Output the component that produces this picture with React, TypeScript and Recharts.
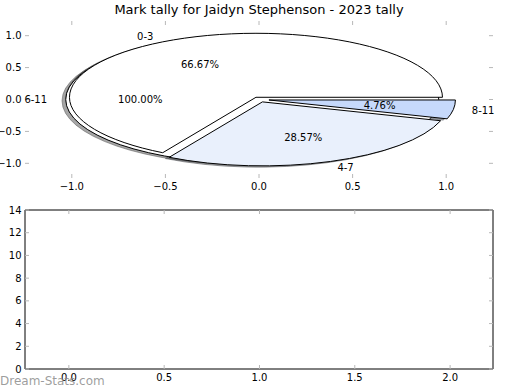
import { Pie, PieChart, Scatter, ScatterChart, XAxis, YAxis } from "recharts";

const title = "Mark tally for Jaidyn Stephenson - 2023 tally";
const watermark = "Dream-Stats.com";

// main pie
const bands = ["0-3", "4-7", "8-11"];
const tallies = [14, 6, 1];
const bandColors = ["#ffffff", "#e9f0fc", "#c6d9fb"];
const bandExplode = [0.04, 0.04, 0.05];

// the full pie drawn underneath
const backBands = ["6-11"];
const backTallies = [1];
const backColors = ["#ffffff"];
const backExplode = [0.04];

const pieTicks = [-1, -0.5, 0, 0.5, 1];
const barXTicks = [0, 0.5, 1, 1.5, 2];
const barYTicks = [0, 2, 4, 6, 8, 10, 12, 14];

const FONT = "DejaVu Sans, Verdana, sans-serif";
const TICK = "#b8b8b8";
const SQUASH = 64 / 186.5;
const RAD = Math.PI / 180;

const mainData = bands.map((name, i) => ({
  name,
  value: tallies[i],
  fill: bandColors[i],
  explode: bandExplode[i],
}));
const backData = backBands.map((name, i) => ({
  name,
  value: backTallies[i],
  fill: backColors[i],
  explode: backExplode[i],
}));

const fmtPie = (v: number) => v.toFixed(1).replace("-", "\u2212");

function wedgePath(cx: number, cy: number, rx: number, ry: number, a0: number, a1: number) {
  if (Math.abs(a1 - a0) >= 359.99) {
    return `M ${cx + rx} ${cy} A ${rx} ${ry} 0 1 0 ${cx - rx} ${cy} A ${rx} ${ry} 0 1 0 ${cx + rx} ${cy} Z`;
  }
  const x0 = cx + rx * Math.cos(a0 * RAD);
  const y0 = cy - ry * Math.sin(a0 * RAD);
  const x1 = cx + rx * Math.cos(a1 * RAD);
  const y1 = cy - ry * Math.sin(a1 * RAD);
  const large = Math.abs(a1 - a0) > 180 ? 1 : 0;
  return `M ${cx} ${cy} L ${x0} ${y0} A ${rx} ${ry} 0 ${large} 0 ${x1} ${y1} Z`;
}

function shade(hex: string) {
  const n = parseInt(hex.slice(1), 16);
  const r = Math.round(((n >> 16) & 255) * 0.3);
  const g = Math.round(((n >> 8) & 255) * 0.3);
  const b = Math.round((n & 255) * 0.3);
  return `rgb(${r},${g},${b})`;
}

function EllipseWedge(props: any, shadow: boolean) {
  const { cx, cy, outerRadius, startAngle, endAngle, payload } = props;
  const e = payload?.explode ?? props.explode ?? 0;
  const fill = payload?.fill ?? props.fill;
  const rx = outerRadius;
  const ry = outerRadius * SQUASH;
  const mid = ((startAngle + endAngle) / 2) * RAD;
  let ox = cx + e * rx * Math.cos(mid);
  let oy = cy - e * ry * Math.sin(mid);
  if (shadow) {
    ox -= 0.02 * rx;
    oy += 0.02 * ry;
    const c = shade(fill);
    return <path d={wedgePath(ox, oy, rx, ry, startAngle, endAngle)} fill={c} stroke={c} fillOpacity={0.5} strokeOpacity={0.5} />;
  }
  return <path d={wedgePath(ox, oy, rx, ry, startAngle, endAngle)} fill={fill} stroke="#000" strokeWidth={1} />;
}

function WedgeLabel(props: any) {
  const { cx, cy, midAngle, outerRadius, percent, payload, name } = props;
  const e = payload?.explode ?? 0;
  const rx = outerRadius;
  const ry = outerRadius * SQUASH;
  const c = Math.cos(midAngle * RAD);
  const s = Math.sin(midAngle * RAD);
  const d1 = 1.1 + e;
  const d2 = 0.6 + e;
  return (
    <g>
      <text
        x={cx + rx * d1 * c}
        y={cy - ry * d1 * s}
        dy={3.6}
        textAnchor={c > 0 ? "start" : "end"}
        fontFamily={FONT}
        fontSize={10}
        fill="#000"
      >
        {payload?.name ?? name}
      </text>
      <text
        x={cx + rx * d2 * c}
        y={cy - ry * d2 * s}
        dy={3.6}
        textAnchor="middle"
        fontFamily={FONT}
        fontSize={10}
        fill="#000"
      >
        {(percent * 100).toFixed(2)}%
      </text>
    </g>
  );
}

function BottomTick({ x, y, payload, fmt }: any) {
  return (
    <g>
      <line x1={x} x2={x} y1={y} y2={y - 4} stroke={TICK} />
      <text x={x} y={y + 12} textAnchor="middle" fontFamily={FONT} fontSize={10} fill="#000">
        {fmt(payload.value)}
      </text>
    </g>
  );
}

function LeftTick({ x, y, payload, fmt }: any) {
  return (
    <g>
      <line x1={x} x2={x + 4} y1={y} y2={y} stroke={TICK} />
      <text x={x - 3.5} y={y + 3.6} textAnchor="end" fontFamily={FONT} fontSize={10} fill="#000">
        {fmt(payload.value)}
      </text>
    </g>
  );
}

function TopTick({ x, y }: any) {
  return <line x1={x} x2={x} y1={y} y2={y + 4} stroke={TICK} />;
}

function RightTick({ x, y }: any) {
  return <line x1={x} x2={x - 4} y1={y} y2={y} stroke={TICK} />;
}

export default function App() {
  const cx = 259.7;
  const cy = 99.5;
  const r = 186.5;
  return (
    <div style={{ position: "absolute", left: 0, top: 0, width: 520, height: 390, background: "#fff" }}>
      {/* pie axes: ticks only, no frame */}
      <div style={{ position: "absolute", left: 0, top: 0 }}>
        <ScatterChart width={520} height={200} margin={{ top: 20, right: 26, bottom: 0, left: 0 }}>
          <XAxis
            xAxisId="b"
            type="number"
            dataKey="x"
            domain={[-1.25, 1.25]}
            allowDataOverflow
            ticks={pieTicks}
            interval={0}
            height={22}
            axisLine={false}
            tickLine={false}
            tickSize={0}
            tickMargin={0}
            tick={(p: any) => <BottomTick {...p} fmt={fmtPie} />}
          />
          <XAxis
            xAxisId="t"
            orientation="top"
            type="number"
            dataKey="x"
            domain={[-1.25, 1.25]}
            allowDataOverflow
            ticks={pieTicks}
            interval={0}
            height={1}
            axisLine={false}
            tickLine={false}
            tickSize={0}
            tickMargin={0}
            tick={(p: any) => <TopTick {...p} />}
          />
          <YAxis
            yAxisId="l"
            type="number"
            dataKey="y"
            domain={[-1.23, 1.23]}
            allowDataOverflow
            ticks={pieTicks}
            interval={0}
            width={25}
            axisLine={false}
            tickLine={false}
            tickSize={0}
            tickMargin={0}
            tick={(p: any) => <LeftTick {...p} fmt={fmtPie} />}
          />
          <YAxis
            yAxisId="r"
            orientation="right"
            type="number"
            dataKey="y"
            domain={[-1.23, 1.23]}
            allowDataOverflow
            ticks={pieTicks}
            interval={0}
            width={1}
            axisLine={false}
            tickLine={false}
            tickSize={0}
            tickMargin={0}
            tick={(p: any) => <RightTick {...p} />}
          />
          <Scatter xAxisId="b" yAxisId="l" data={[]} isAnimationActive={false} />
          <Scatter xAxisId="t" yAxisId="r" data={[]} isAnimationActive={false} />
        </ScatterChart>
      </div>

      {/* the pies, squashed into ellipses */}
      <div style={{ position: "absolute", left: 0, top: 0 }}>
        <PieChart width={520} height={200} margin={{ top: 0, right: 0, bottom: 0, left: 0 }}>
          <Pie
            data={backData}
            dataKey="value"
            nameKey="name"
            cx={cx}
            cy={cy}
            outerRadius={r}
            startAngle={0}
            endAngle={360}
            labelLine={false}
            isAnimationActive={false}
            shape={(p: any) => EllipseWedge(p, true)}
          />
          <Pie
            data={mainData}
            dataKey="value"
            nameKey="name"
            cx={cx}
            cy={cy}
            outerRadius={r}
            startAngle={0}
            endAngle={360}
            labelLine={false}
            isAnimationActive={false}
            shape={(p: any) => EllipseWedge(p, true)}
          />
          <Pie
            data={backData}
            dataKey="value"
            nameKey="name"
            cx={cx}
            cy={cy}
            outerRadius={r}
            startAngle={0}
            endAngle={360}
            labelLine={false}
            isAnimationActive={false}
            shape={(p: any) => EllipseWedge(p, false)}
          />
          <Pie
            data={mainData}
            dataKey="value"
            nameKey="name"
            cx={cx}
            cy={cy}
            outerRadius={r}
            startAngle={0}
            endAngle={360}
            labelLine={false}
            label={WedgeLabel}
            isAnimationActive={false}
            shape={(p: any) => EllipseWedge(p, false)}
          />
          <Pie
            data={backData}
            dataKey="value"
            nameKey="name"
            cx={cx}
            cy={cy}
            outerRadius={r}
            startAngle={0}
            endAngle={360}
            labelLine={false}
            label={WedgeLabel}
            isAnimationActive={false}
            shape={() => <g />}
          />
        </PieChart>
      </div>

      {/* empty tally axes below */}
      <div style={{ position: "absolute", left: 0, top: 200 }}>
        <ScatterChart width={520} height={190} margin={{ top: 9, right: 26, bottom: 0, left: 0 }}>
          <XAxis
            xAxisId="b"
            type="number"
            dataKey="x"
            domain={[-0.23, 2.225]}
            allowDataOverflow
            ticks={barXTicks}
            interval={0}
            height={21}
            axisLine={{ stroke: "#000" }}
            tickLine={false}
            tickSize={0}
            tickMargin={0}
            tick={(p: any) => <BottomTick {...p} fmt={(v: number) => v.toFixed(1)} />}
          />
          <XAxis
            xAxisId="t"
            orientation="top"
            type="number"
            dataKey="x"
            domain={[-0.23, 2.225]}
            allowDataOverflow
            ticks={barXTicks}
            interval={0}
            height={1}
            axisLine={{ stroke: "#000" }}
            tickLine={false}
            tickSize={0}
            tickMargin={0}
            tick={(p: any) => <TopTick {...p} />}
          />
          <YAxis
            yAxisId="l"
            type="number"
            dataKey="y"
            domain={[0, 14]}
            allowDataOverflow
            ticks={barYTicks}
            interval={0}
            width={25}
            axisLine={{ stroke: "#000" }}
            tickLine={false}
            tickSize={0}
            tickMargin={0}
            tick={(p: any) => <LeftTick {...p} fmt={(v: number) => String(v)} />}
          />
          <YAxis
            yAxisId="r"
            orientation="right"
            type="number"
            dataKey="y"
            domain={[0, 14]}
            allowDataOverflow
            ticks={barYTicks}
            interval={0}
            width={1}
            axisLine={{ stroke: "#000" }}
            tickLine={false}
            tickSize={0}
            tickMargin={0}
            tick={(p: any) => <RightTick {...p} />}
          />
          <Scatter xAxisId="b" yAxisId="l" data={[]} isAnimationActive={false} />
          <Scatter xAxisId="t" yAxisId="r" data={[]} isAnimationActive={false} />
        </ScatterChart>
      </div>

      <svg width={520} height={390} style={{ position: "absolute", left: 0, top: 0, pointerEvents: "none" }}>
        <text x={259} y={14} textAnchor="middle" fontFamily={FONT} fontSize={13} fill="#000">
          {title}
        </text>
        <text x={0} y={385} fontFamily={FONT} fontSize={12} fill="#8c8c8c" fillOpacity={0.85}>
          {watermark}
        </text>
      </svg>
    </div>
  );
}
